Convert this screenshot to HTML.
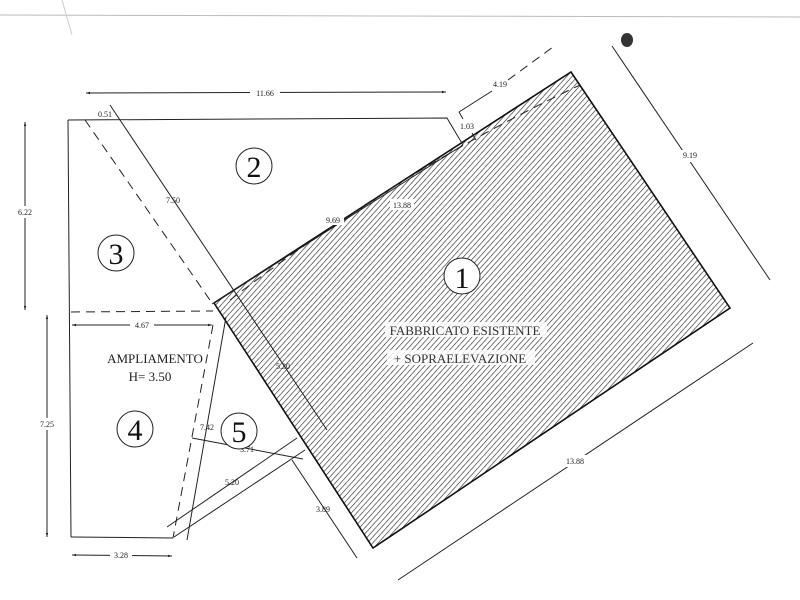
<!DOCTYPE html>
<html><head><meta charset="utf-8"><style>html,body{margin:0;padding:0;background:#fff}svg{display:block}</style></head>
<body>
<svg width="800" height="600" viewBox="0 0 800 600" xmlns="http://www.w3.org/2000/svg" font-family="Liberation Serif, serif">
<defs>
<pattern id="h" width="4" height="4" patternUnits="userSpaceOnUse" patternTransform="rotate(42)">
<line x1="0" y1="0" x2="0" y2="4" stroke="#222" stroke-width="1.2"/>
</pattern>
<marker id="a" viewBox="0 0 10 10" refX="10" refY="5" markerWidth="6" markerHeight="4" orient="auto-start-reverse"><path d="M0,2 L10,5 L0,8z" fill="#222"/></marker>
</defs>
<g stroke="#222" fill="none" stroke-width="1">
<line x1="0" y1="15" x2="800" y2="17" stroke="#bbb"/>
<line x1="62" y1="0" x2="72" y2="35" stroke="#ccc"/>
<polygon points="571,72 730,308 373,548 214,303" fill="url(#h)" stroke="#111" stroke-width="1.6"/>
<polyline points="68,120 447,118 463,145"/>
<line x1="463" y1="145" x2="212" y2="304"/>
<line x1="68" y1="120" x2="71" y2="537"/>
<polyline points="71,537 173,538"/>
<line x1="110" y1="105" x2="327" y2="430"/>
<line x1="187" y1="540" x2="226" y2="317"/>
<line x1="174" y1="537" x2="305" y2="450"/>
<line x1="167" y1="527" x2="297" y2="438"/>
<line x1="292" y1="460" x2="357" y2="558"/>
<line x1="192" y1="438" x2="303" y2="459"/>
<line x1="459" y1="112" x2="463" y2="119"/>
<line x1="472" y1="133" x2="476" y2="140"/>
<line x1="459" y1="112" x2="492" y2="91"/>
<g stroke-dasharray="9,6">
<line x1="85" y1="120" x2="212" y2="303"/>
<line x1="71" y1="312" x2="213" y2="311"/>
<polyline points="213,325 173,538"/>
<line x1="508" y1="80" x2="553" y2="47"/>
<path d="M230,300 Q400,170 580,85"/>
</g>
<line x1="86" y1="93" x2="446" y2="92" marker-start="url(#a)" marker-end="url(#a)"/>
<line x1="25" y1="122" x2="25" y2="310" marker-start="url(#a)" marker-end="url(#a)"/>
<line x1="47" y1="315" x2="47" y2="537" marker-start="url(#a)" marker-end="url(#a)"/>
<line x1="72" y1="325" x2="212" y2="325" marker-start="url(#a)" marker-end="url(#a)"/>
<line x1="72" y1="555" x2="172" y2="556" marker-start="url(#a)" marker-end="url(#a)"/>
<line x1="612" y1="46" x2="770" y2="280"/>
<line x1="398" y1="580" x2="753" y2="343"/>
</g>
<g font-size="8" fill="#222" text-anchor="middle">
<rect x="250" y="86" width="30" height="12" fill="#fff"/><text x="265" y="96">11.66</text>
<text x="105" y="117">0.51</text>
<rect x="15" y="206" width="20" height="12" fill="#fff"/><text x="25" y="215">6.22</text>
<rect x="37" y="418" width="20" height="12" fill="#fff"/><text x="47" y="427">7.25</text>
<rect x="130" y="319" width="24" height="12" fill="#fff"/><text x="142" y="328">4.67</text>
<rect x="110" y="549" width="22" height="12" fill="#fff"/><text x="121" y="558">3.28</text>
<text x="173" y="203">7.50</text>
<rect x="322" y="214" width="22" height="11" fill="#fff"/><text x="333" y="223">9.69</text>
<rect x="390" y="199" width="24" height="11" fill="#fff"/><text x="402" y="208">13.88</text>
<text x="500" y="87">4.19</text>
<text x="467" y="129">1.03</text>
<rect x="680" y="150" width="20" height="12" fill="#fff"/><text x="690" y="158">9.19</text>
<rect x="562" y="455" width="26" height="12" fill="#fff"/><text x="575" y="464">13.88</text>
<text x="283" y="369">5.30</text>
<text x="207" y="430">7.42</text>
<text x="247" y="452">3.71</text>
<text x="232" y="485">5.20</text>
<text x="323" y="512">3.89</text>
</g>
<g fill="#fff" stroke="#222">
<circle cx="254" cy="166" r="18"/><circle cx="116" cy="253" r="18"/>
<circle cx="462" cy="276" r="18"/><circle cx="135" cy="429" r="18"/><circle cx="239" cy="431" r="18"/>
</g>
<g font-size="30" fill="#111" text-anchor="middle">
<text x="254" y="177">2</text><text x="116" y="264">3</text><text x="462" y="288">1</text>
<text x="135" y="440">4</text><text x="239" y="442">5</text>
</g>
<rect x="385" y="322" width="162" height="15" fill="#fff" opacity="0.85"/>
<rect x="387" y="350" width="148" height="15" fill="#fff" opacity="0.85"/>
<g font-size="13" fill="#333" text-anchor="middle">
<text x="465" y="335">FABBRICATO ESISTENTE</text>
<text x="460" y="363">+ SOPRAELEVAZIONE</text>
</g>
<g font-size="13" fill="#222" text-anchor="middle">
<text x="155" y="363">AMPLIAMENTO</text>
<text x="150" y="381">H= 3.50</text>
</g>
<ellipse cx="627" cy="40" rx="6" ry="7" fill="#333"/>
</svg>
</body></html>
